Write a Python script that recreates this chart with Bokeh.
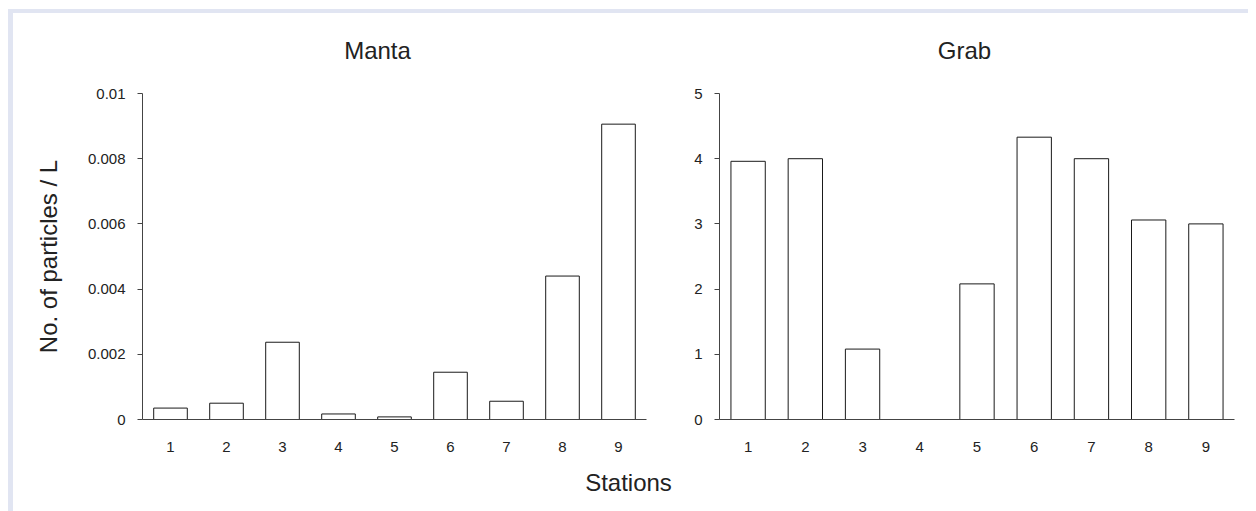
from bokeh.plotting import figure
from bokeh.layouts import column, row
from bokeh.models import ColumnDataSource, FixedTicker, Range1d, Label
from bokeh.embed import file_html
from bokeh.resources import INLINE

# ---- data ----
stations = [1, 2, 3, 4, 5, 6, 7, 8, 9]
station_labels = ["1", "2", "3", "4", "5", "6", "7", "8", "9"]
manta = [0.00035, 0.0005, 0.00237, 0.00017, 0.00008, 0.00145, 0.00056, 0.0044, 0.00906]
grab = [3.96, 4.0, 1.08, 0.0, 2.08, 4.33, 4.0, 3.06, 3.0]
manta_ticks = [0, 0.002, 0.004, 0.006, 0.008, 0.01]
manta_tick_labels = ["0", "0.002", "0.004", "0.006", "0.008", "0.01"]
grab_ticks = [0, 1, 2, 3, 4, 5]
grab_tick_labels = ["0", "1", "2", "3", "4", "5"]
titles = ["Manta", "Grab"]
y_label = "No. of particles / L"
x_label = "Stations"

FONT = "Liberation Sans"
TXT = "#222222"
AX = "#444444"


def strip(width, height):
    s = figure(width=width, height=height, output_backend="svg", toolbar_location=None,
               x_range=Range1d(0, width), y_range=Range1d(0, height),
               min_border=0, x_axis_type=None, y_axis_type=None)
    s.grid.visible = False
    s.outline_line_color = None
    return s


def panel(values, ymax, ticks, tick_labels, width, mbl, mbr):
    p = figure(width=width, height=382, output_backend="svg", toolbar_location=None,
               x_range=Range1d(0.5, 9.5), y_range=Range1d(0, ymax),
               min_border_left=mbl, min_border_right=mbr,
               min_border_top=10, min_border_bottom=46)
    src = ColumnDataSource(dict(x=stations, top=values))
    p.vbar(x="x", top="top", bottom=0, width=0.6, source=src,
           fill_color="white", line_color="#1a1a1a", line_width=1)
    p.grid.visible = False
    p.outline_line_color = None
    p.background_fill_color = "white"
    p.border_fill_color = "white"

    xa = p.xaxis[0]
    xa.ticker = FixedTicker(ticks=stations)
    xa.major_label_overrides = dict(zip(stations, station_labels))
    xa.major_tick_out = 0
    xa.major_tick_in = 0
    xa.minor_tick_out = 0
    xa.minor_tick_in = 0
    xa.axis_line_color = AX
    xa.major_label_text_font = FONT
    xa.major_label_text_font_size = "15px"
    xa.major_label_text_color = TXT
    xa.major_label_standoff = 22

    ya = p.yaxis[0]
    ya.ticker = FixedTicker(ticks=ticks)
    ya.major_label_overrides = dict(zip(ticks, tick_labels))
    ya.major_tick_out = 5
    ya.major_tick_in = 0
    ya.minor_tick_out = 0
    ya.minor_tick_in = 0
    ya.axis_line_color = AX
    ya.major_tick_line_color = AX
    ya.major_label_text_font = FONT
    ya.major_label_text_font_size = "15px"
    ya.major_label_text_color = TXT
    ya.major_label_standoff = 12
    return p


# title strip (panel titles)
p0 = strip(1235, 70)
for t, tx in zip(titles, [364, 951]):
    p0.add_layout(Label(x=tx, y=33, text=t, text_align="center",
                        text_baseline="middle", text_font=FONT,
                        text_font_size="24px", text_color=TXT))

p1 = panel(manta, 0.01, manta_ticks, manta_tick_labels, 657, 129, 24)
p1.yaxis[0].axis_label = y_label
p1.yaxis[0].axis_label_text_font = FONT
p1.yaxis[0].axis_label_text_font_size = "24px"
p1.yaxis[0].axis_label_text_font_style = "normal"
p1.yaxis[0].axis_label_text_color = TXT
p1.yaxis[0].axis_label_standoff = 23

p2 = panel(grab, 5, grab_ticks, grab_tick_labels, 578, 49, 14)

# shared x-axis label strip
p3 = strip(1235, 46)
p3.add_layout(Label(x=615, y=29, text=x_label, text_align="center",
                    text_baseline="middle", text_font=FONT,
                    text_font_size="24px", text_color=TXT))

layout = column(p0, row(p1, p2), p3,
                styles={"margin-left": "8px", "margin-top": "9px",
                        "border-top": "4px solid #e1e5f2",
                        "border-left": "5px solid #e1e5f2"})

open("out.html", "w").write(file_html(layout, INLINE))
